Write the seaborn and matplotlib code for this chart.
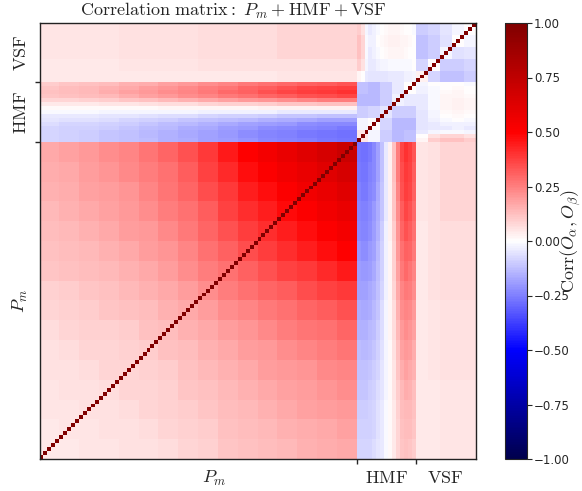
import numpy as np
import matplotlib
matplotlib.use("Agg")
import matplotlib.pyplot as plt
import seaborn as sns

sns.set_style("white")
plt.rcParams["mathtext.fontset"] = "cm"
plt.rcParams["font.family"] = ["DejaVu Sans"]

# Observable groups and their sizes
groups = ["P_m", "HMF", "VSF"]
n_pm, n_hmf, n_vsf = 80, 15, 15
pm_bin = 5      # P_m bins are stored in groups of 5
sub_bin = 3     # HMF / VSF coarse bins hold 3 entries

# P_m x P_m correlations (16 x 16 coarse bins, low k at index 0)
pm_pm = [
    [0.04, 0.04, 0.05, 0.05, 0.06, 0.06, 0.07, 0.08, 0.09, 0.11, 0.12, 0.13, 0.14, 0.15, 0.16, 0.17],
    [0.04, 0.05, 0.05, 0.06, 0.06, 0.07, 0.08, 0.09, 0.10, 0.12, 0.13, 0.14, 0.15, 0.16, 0.17, 0.18],
    [0.05, 0.05, 0.06, 0.06, 0.07, 0.08, 0.09, 0.10, 0.11, 0.13, 0.14, 0.15, 0.17, 0.18, 0.19, 0.20],
    [0.05, 0.06, 0.06, 0.07, 0.08, 0.08, 0.09, 0.11, 0.12, 0.14, 0.15, 0.17, 0.18, 0.19, 0.21, 0.22],
    [0.06, 0.06, 0.07, 0.08, 0.08, 0.09, 0.10, 0.12, 0.14, 0.15, 0.17, 0.19, 0.20, 0.21, 0.23, 0.24],
    [0.06, 0.07, 0.08, 0.08, 0.09, 0.10, 0.12, 0.13, 0.15, 0.17, 0.19, 0.20, 0.22, 0.24, 0.25, 0.27],
    [0.07, 0.08, 0.09, 0.09, 0.10, 0.12, 0.13, 0.15, 0.17, 0.19, 0.21, 0.23, 0.25, 0.27, 0.28, 0.30],
    [0.08, 0.09, 0.10, 0.11, 0.12, 0.13, 0.15, 0.17, 0.19, 0.22, 0.24, 0.26, 0.28, 0.30, 0.32, 0.34],
    [0.09, 0.10, 0.11, 0.12, 0.14, 0.15, 0.17, 0.19, 0.22, 0.25, 0.28, 0.30, 0.32, 0.35, 0.37, 0.39],
    [0.11, 0.12, 0.13, 0.14, 0.15, 0.17, 0.19, 0.22, 0.25, 0.28, 0.31, 0.34, 0.37, 0.39, 0.42, 0.45],
    [0.12, 0.13, 0.14, 0.15, 0.17, 0.19, 0.21, 0.24, 0.28, 0.31, 0.35, 0.38, 0.41, 0.44, 0.47, 0.50],
    [0.13, 0.14, 0.15, 0.17, 0.19, 0.20, 0.23, 0.26, 0.30, 0.34, 0.38, 0.41, 0.44, 0.47, 0.51, 0.54],
    [0.14, 0.15, 0.17, 0.18, 0.20, 0.22, 0.25, 0.28, 0.32, 0.37, 0.41, 0.44, 0.48, 0.51, 0.55, 0.58],
    [0.15, 0.16, 0.18, 0.19, 0.21, 0.24, 0.27, 0.30, 0.35, 0.39, 0.44, 0.47, 0.51, 0.55, 0.58, 0.62],
    [0.16, 0.17, 0.19, 0.21, 0.23, 0.25, 0.28, 0.32, 0.37, 0.42, 0.47, 0.51, 0.55, 0.58, 0.62, 0.66],
    [0.17, 0.18, 0.20, 0.22, 0.24, 0.27, 0.30, 0.34, 0.39, 0.45, 0.50, 0.54, 0.58, 0.62, 0.66, 0.71],
]

# P_m bins (rows) x individual HMF bins (columns)
pm_hmf = [
    [-0.08, -0.08, -0.08, -0.08, -0.07, -0.05, -0.04, -0.01, 0.01, 0.04, 0.08, 0.11, 0.12, 0.11, 0.10],
    [-0.09, -0.09, -0.09, -0.09, -0.08, -0.06, -0.04, -0.01, 0.01, 0.04, 0.08, 0.12, 0.13, 0.13, 0.11],
    [-0.10, -0.10, -0.10, -0.09, -0.08, -0.06, -0.04, -0.01, 0.01, 0.04, 0.09, 0.13, 0.14, 0.14, 0.12],
    [-0.11, -0.11, -0.11, -0.10, -0.09, -0.07, -0.05, -0.02, 0.01, 0.05, 0.10, 0.14, 0.16, 0.15, 0.13],
    [-0.12, -0.12, -0.12, -0.11, -0.10, -0.08, -0.05, -0.02, 0.01, 0.05, 0.11, 0.16, 0.18, 0.17, 0.15],
    [-0.13, -0.14, -0.14, -0.13, -0.11, -0.09, -0.06, -0.02, 0.01, 0.06, 0.12, 0.18, 0.20, 0.19, 0.16],
    [-0.15, -0.15, -0.15, -0.14, -0.13, -0.10, -0.07, -0.02, 0.02, 0.07, 0.14, 0.20, 0.22, 0.21, 0.18],
    [-0.16, -0.17, -0.17, -0.16, -0.14, -0.11, -0.07, -0.02, 0.02, 0.07, 0.15, 0.22, 0.24, 0.23, 0.20],
    [-0.18, -0.18, -0.18, -0.17, -0.15, -0.12, -0.08, -0.03, 0.02, 0.08, 0.17, 0.24, 0.26, 0.25, 0.22],
    [-0.19, -0.20, -0.20, -0.19, -0.17, -0.13, -0.09, -0.03, 0.02, 0.09, 0.18, 0.26, 0.29, 0.27, 0.24],
    [-0.21, -0.22, -0.22, -0.20, -0.18, -0.14, -0.09, -0.03, 0.02, 0.09, 0.20, 0.28, 0.31, 0.30, 0.26],
    [-0.23, -0.24, -0.24, -0.22, -0.19, -0.15, -0.10, -0.03, 0.03, 0.10, 0.21, 0.30, 0.34, 0.32, 0.28],
    [-0.24, -0.25, -0.25, -0.23, -0.20, -0.16, -0.11, -0.04, 0.03, 0.11, 0.22, 0.32, 0.36, 0.34, 0.29],
    [-0.25, -0.26, -0.26, -0.24, -0.22, -0.17, -0.11, -0.04, 0.03, 0.11, 0.24, 0.34, 0.38, 0.36, 0.31],
    [-0.26, -0.27, -0.27, -0.25, -0.23, -0.18, -0.12, -0.04, 0.03, 0.12, 0.25, 0.35, 0.39, 0.37, 0.32],
    [-0.27, -0.28, -0.28, -0.26, -0.23, -0.18, -0.12, -0.04, 0.03, 0.12, 0.25, 0.36, 0.40, 0.38, 0.33],
]

# P_m bins (rows) x VSF coarse bins (columns)
pm_vsf = [
    [0.04, 0.04, 0.05, 0.05, 0.05],
    [0.04, 0.04, 0.05, 0.05, 0.05],
    [0.04, 0.04, 0.05, 0.05, 0.05],
    [0.04, 0.04, 0.05, 0.05, 0.05],
    [0.04, 0.05, 0.06, 0.06, 0.06],
    [0.04, 0.05, 0.06, 0.06, 0.06],
    [0.04, 0.05, 0.06, 0.06, 0.06],
    [0.04, 0.05, 0.06, 0.06, 0.06],
    [0.04, 0.06, 0.07, 0.07, 0.07],
    [0.04, 0.06, 0.07, 0.07, 0.07],
    [0.04, 0.06, 0.07, 0.07, 0.07],
    [0.04, 0.06, 0.07, 0.07, 0.07],
    [0.05, 0.06, 0.08, 0.08, 0.08],
    [0.05, 0.06, 0.08, 0.08, 0.08],
    [0.05, 0.06, 0.08, 0.08, 0.08],
    [0.05, 0.06, 0.08, 0.08, 0.08],
]

# HMF x HMF (5 x 5 coarse bins)
hmf_hmf = [
    [0.05, -0.02, -0.10, -0.14, -0.12],
    [-0.02, 0.00, -0.08, -0.14, -0.14],
    [-0.10, -0.08, -0.05, -0.10, -0.10],
    [-0.14, -0.14, -0.10, -0.03, -0.04],
    [-0.12, -0.14, -0.10, -0.04, 0.00],
]

# individual HMF bins (rows) x VSF coarse bins (columns)
hmf_vsf = [
    [0.02, 0.10, 0.12, 0.12, 0.10],
    [0.00, 0.06, 0.08, 0.08, 0.06],
    [-0.04, -0.02, -0.01, -0.01, -0.02],
    [-0.05, -0.04, -0.04, -0.03, -0.04],
    [-0.05, -0.04, -0.03, -0.03, -0.03],
    [-0.05, -0.03, -0.01, 0.00, -0.01],
    [-0.05, -0.02, 0.00, 0.01, 0.00],
    [-0.05, -0.02, 0.01, 0.02, 0.01],
    [-0.04, -0.01, 0.02, 0.03, 0.02],
    [-0.04, -0.01, 0.02, 0.03, 0.02],
    [-0.04, -0.01, 0.02, 0.03, 0.02],
    [-0.04, -0.01, 0.02, 0.02, 0.01],
    [-0.03, -0.01, 0.01, 0.02, 0.00],
    [-0.03, -0.01, 0.00, 0.01, 0.00],
    [-0.02, 0.00, 0.00, 0.00, -0.01],
]

# VSF x VSF (5 x 5 coarse bins)
vsf_vsf = [
    [0.03, -0.08, -0.12, -0.12, -0.10],
    [-0.08, 0.00, -0.10, -0.10, -0.08],
    [-0.12, -0.10, -0.02, -0.06, -0.05],
    [-0.12, -0.10, -0.06, 0.00, -0.02],
    [-0.10, -0.08, -0.05, -0.02, 0.00],
]

cbar_ticks = [-1.0, -0.75, -0.5, -0.25, 0.0, 0.25, 0.5, 0.75, 1.0]


def expand(block, r, c):
    a = np.asarray(block, dtype=float)
    return np.repeat(np.repeat(a, r, axis=0), c, axis=1)


pp = expand(pm_pm, pm_bin, pm_bin)
ph = expand(pm_hmf, pm_bin, 1)
pv = expand(pm_vsf, pm_bin, sub_bin)
hh = expand(hmf_hmf, sub_bin, sub_bin)
hv = expand(hmf_vsf, 1, sub_bin)
vv = expand(vsf_vsf, sub_bin, sub_bin)

corr = np.block([[pp, ph, pv],
                 [ph.T, hh, hv],
                 [pv.T, hv.T, vv]])
np.fill_diagonal(corr, 1.0)
n_tot = corr.shape[0]

W, H = 582, 491
fig = plt.figure(figsize=(W / 100, H / 100), dpi=100)
ax = fig.add_axes([39.5 / W, 32 / H, 436 / W, 436 / H])
cax = fig.add_axes([504.5 / W, 32 / H, 22 / W, 436 / H])

sns.heatmap(corr, ax=ax, cbar_ax=cax, cmap="seismic", vmin=-1, vmax=1,
            xticklabels=False, yticklabels=False,
            cbar_kws={"ticks": cbar_ticks})
ax.invert_yaxis()
ax.set_xlim(0, n_tot)
ax.set_ylim(0, n_tot)

for s in ax.spines.values():
    s.set_visible(True)
    s.set_linewidth(1.0)
    s.set_color("#222222")

# boundaries between observable groups as tick marks
bounds = [n_pm, n_pm + n_hmf]
centers_x = [44, n_pm + n_hmf / 2, n_pm + n_hmf + n_vsf / 2]
centers_y = [n_pm / 2, n_pm + n_hmf / 2, n_pm + n_hmf + n_vsf / 2]
labels = [r"$P_m$", r"$\mathrm{HMF}$", r"$\mathrm{VSF}$"]

ax.set_xticks(bounds)
ax.set_yticks(bounds)
ax.set_xticklabels([])
ax.set_yticklabels([])
ax.tick_params(which="major", length=3.5, width=1.0, direction="out",
               bottom=True, left=True, top=False, right=False)
ax.set_xticks(centers_x, minor=True)
ax.set_yticks(centers_y, minor=True)
ax.set_xticklabels(labels, minor=True, fontsize=13)
ax.set_yticklabels(labels, minor=True, fontsize=13, rotation=90, va="center")
ax.tick_params(which="minor", length=0, pad=7, bottom=True, left=True)

ax.set_title(r"$\mathrm{Correlation\ matrix:}\ P_m + \mathrm{HMF} + \mathrm{VSF}$",
             fontsize=13, pad=5, x=0.444)

cbar = ax.collections[0].colorbar
cbar.ax.tick_params(labelsize=8.5, length=3.5, width=0.8, pad=2)
cbar.set_label(r"$\mathrm{Corr}(O_\alpha, O_\beta)$", fontsize=13)
cbar.ax.yaxis.set_label_coords(53.5 / 22, 0.5)
cbar.outline.set_linewidth(0.8)

fig.savefig("out.png", dpi=100)
